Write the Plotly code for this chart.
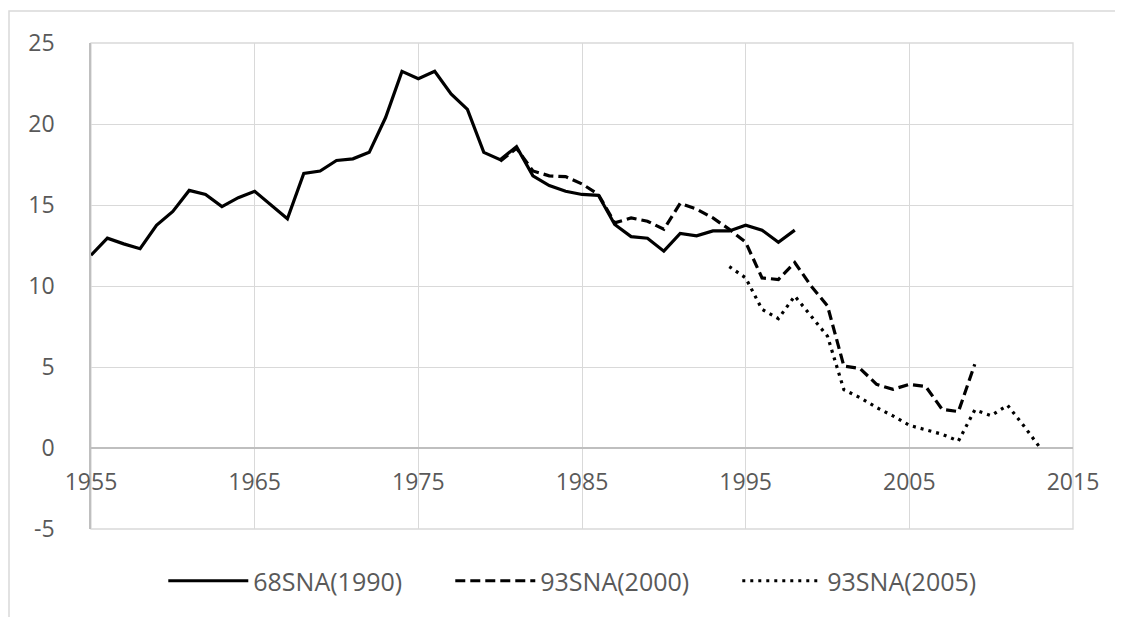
import plotly.graph_objects as go

years_68 = list(range(1955, 1999))
vals_68 = [11.9, 12.95, 12.6, 12.3, 13.75, 14.6, 15.9, 15.65, 14.9, 15.45,
           15.85, 15.0, 14.15, 16.95, 17.1, 17.75, 17.85, 18.25, 20.4, 23.25,
           22.8, 23.25, 21.85, 20.9, 18.25, 17.8, 18.6, 16.8, 16.2, 15.85,
           15.65, 15.6, 13.8, 13.05, 12.95, 12.15, 13.25, 13.1, 13.4, 13.4,
           13.75, 13.45, 12.7, 13.45]

years_93a = list(range(1980, 2010))
vals_93a = [17.7, 18.5, 17.1, 16.8, 16.75, 16.3, 15.65, 13.9, 14.2, 14.0,
            13.5, 15.1, 14.75, 14.2, 13.5, 12.7, 10.5, 10.4, 11.45, 10.0,
            8.77, 5.06, 4.9, 3.93, 3.62, 3.93, 3.8, 2.39, 2.25, 5.17]

years_93b = list(range(1994, 2014))
vals_93b = [11.2, 10.5, 8.56, 7.99, 9.38, 8.15, 6.9, 3.6, 3.1, 2.5,
            1.98, 1.4, 1.11, 0.85, 0.43, 2.35, 2.0, 2.64, 1.36, 0.0]

names = ["68SNA(1990)", "93SNA(2000)", "93SNA(2005)"]
x_ticks = [1955, 1965, 1975, 1985, 1995, 2005, 2015]
y_ticks = [-5, 0, 5, 10, 15, 20, 25]

txt = "#595959"
grid = "#d9d9d9"
font = dict(family="Open Sans", size=23, color=txt)
legfont = dict(family="Open Sans", size=25, color=txt)

fig = go.Figure()
fig.add_trace(go.Scatter(x=years_68, y=vals_68, mode="lines", name=names[0],
                         line=dict(color="black", width=3.2, dash="solid")))
fig.add_trace(go.Scatter(x=years_93a, y=vals_93a, mode="lines", name=names[1],
                         line=dict(color="black", width=3.2, dash="10px,5px")))
fig.add_trace(go.Scatter(x=years_93b, y=vals_93b, mode="lines", name=names[2],
                         line=dict(color="black", width=3.2, dash="3px,5px")))

# page body has an 8px margin, so the figure is 8px smaller and margins shifted
fig.update_layout(
    width=1115, height=609,
    margin=dict(l=83, r=50, t=35, b=88, autoexpand=False),
    paper_bgcolor="white", plot_bgcolor="white",
    font=font,
    showlegend=True,
    legend=dict(orientation="h", x=0.512, xanchor="center", y=-0.107, yanchor="middle",
                font=legfont, itemwidth=80, traceorder="normal",
                entrywidth=192, entrywidthmode="pixels"),
    xaxis=dict(range=[1955, 2015], tickvals=x_ticks, ticktext=[str(v) for v in x_ticks],
               showgrid=True, gridcolor=grid, gridwidth=1.3, automargin=False,
               anchor="free", position=1/6, showline=True, linecolor="#bfbfbf", linewidth=1.5,
               ticks="", ticklabelstandoff=14, zeroline=False, tickfont=font),
    yaxis=dict(range=[-5, 25], tickvals=y_ticks, ticktext=[str(v) for v in y_ticks],
               showgrid=True, gridcolor=grid, gridwidth=1.3, automargin=False,
               showline=True, linecolor="#bfbfbf", linewidth=1.5,
               zeroline=False, ticks="", ticklabelstandoff=30, tickfont=font),
    shapes=[
        dict(type="rect", xref="x domain", yref="y domain", x0=0, x1=1, y0=0, y1=1,
             line=dict(color=grid, width=1.3), layer="below"),
        dict(type="rect", xref="paper", yref="paper", x0=-0.0835, x1=1.2, y0=-0.5, y1=1.0658,
             line=dict(color=grid, width=1.5), layer="below"),
    ],
)

fig.write_html("out.html")
